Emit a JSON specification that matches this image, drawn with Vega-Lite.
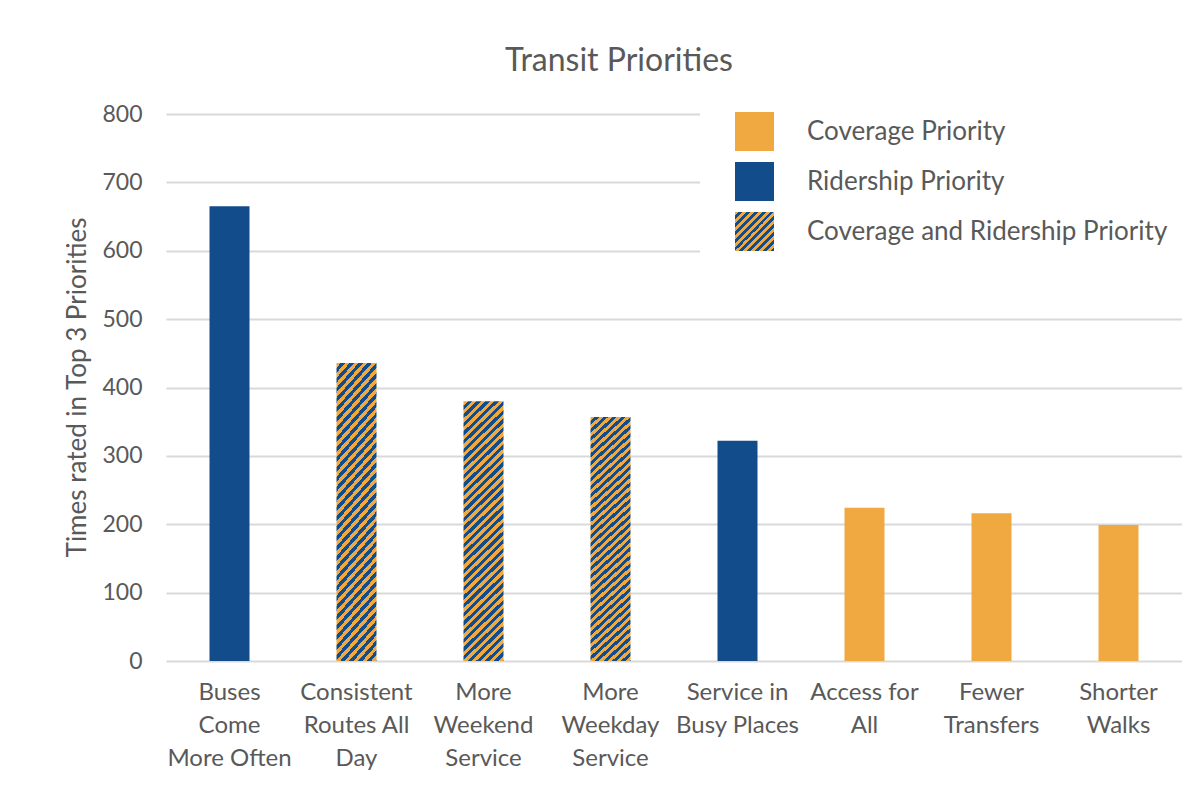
{
  "$schema": "https://vega.github.io/schema/vega-lite/v6.json",
  "width": 1016,
  "height": 547,
  "autosize": {"type": "none"},
  "padding": {"left": 166, "top": 114, "right": 0, "bottom": 126},
  "background": "white",
  "title": {"text": "Transit Priorities", "fontSize": 32, "font": "Lato", "fontWeight": "normal", "color": "#595959", "dx": -55, "offset": -26, "baseline": "alphabetic"},
  "data": {"values": [
    {"priority": "Buses Come More Often", "type": "Ridership Priority", "count": 665},
    {"priority": "Consistent Routes All Day", "type": "Coverage and Ridership Priority", "count": 436},
    {"priority": "More Weekend Service", "type": "Coverage and Ridership Priority", "count": 380},
    {"priority": "More Weekday Service", "type": "Coverage and Ridership Priority", "count": 357},
    {"priority": "Service in Busy Places", "type": "Ridership Priority", "count": 322},
    {"priority": "Access for All", "type": "Coverage Priority", "count": 224},
    {"priority": "Fewer Transfers", "type": "Coverage Priority", "count": 216},
    {"priority": "Shorter Walks", "type": "Coverage Priority", "count": 199}
  ]},
  "config": {"view": {"stroke": null}},
  "mark": {"type": "bar"},
  "encoding": {
    "x": {"field": "priority", "type": "nominal", "sort": null,
      "scale": {"paddingInner": 0.685, "paddingOuter": 0.3425},
      "axis": {"title": null, "domain": false, "ticks": false, "labelAngle": 0, "labelFont": "Lato", "labelFontSize": 24, "labelColor": "#595959", "labelLineHeight": 33, "labelPadding": 19, "labelOverlap": false, "labelLimit": 300,
        "labelExpr": "{'Buses Come More Often':['Buses','Come','More Often'],'Consistent Routes All Day':['Consistent','Routes All','Day'],'More Weekend Service':['More','Weekend','Service'],'More Weekday Service':['More','Weekday','Service'],'Service in Busy Places':['Service in','Busy Places'],'Access for All':['Access for','All'],'Fewer Transfers':['Fewer','Transfers'],'Shorter Walks':['Shorter','Walks']}[datum.value]"}},
    "y": {"field": "count", "type": "quantitative",
      "scale": {"domain": [0, 800], "nice": false},
      "axis": {"values": [0, 100, 200, 300, 400, 500, 600, 700, 800], "grid": true, "gridColor": "#D9D9D9", "gridWidth": 2, "domain": false, "ticks": false, "labelFont": "Lato", "labelFontSize": 23, "labelColor": "#595959", "labelPadding": 24,
        "title": "Times rated in Top 3 Priorities", "titleFont": "Lato", "titleFontSize": 26, "titleFontWeight": "normal", "titleColor": "#595959", "titleX": -89, "titleY": 273, "titleBaseline": "middle", "titleAlign": "center"}},
    "fill": {
      "condition": {"test": "datum.type === 'Coverage and Ridership Priority'",
        "value": {"gradient": "linear", "x1": 0, "y1": 0, "x2": 0.195, "y2": 1.3, "stops": [
{"offset":0,"color":"#F0A940"},{"offset":0.0125,"color":"#F0A940"},{"offset":0.0125,"color":"#134C8A"},{"offset":0.025,"color":"#134C8A"},
{"offset":0.025,"color":"#F0A940"},{"offset":0.0375,"color":"#F0A940"},{"offset":0.0375,"color":"#134C8A"},{"offset":0.05,"color":"#134C8A"},
{"offset":0.05,"color":"#F0A940"},{"offset":0.0625,"color":"#F0A940"},{"offset":0.0625,"color":"#134C8A"},{"offset":0.075,"color":"#134C8A"},
{"offset":0.075,"color":"#F0A940"},{"offset":0.0875,"color":"#F0A940"},{"offset":0.0875,"color":"#134C8A"},{"offset":0.1,"color":"#134C8A"},
{"offset":0.1,"color":"#F0A940"},{"offset":0.1125,"color":"#F0A940"},{"offset":0.1125,"color":"#134C8A"},{"offset":0.125,"color":"#134C8A"},
{"offset":0.125,"color":"#F0A940"},{"offset":0.1375,"color":"#F0A940"},{"offset":0.1375,"color":"#134C8A"},{"offset":0.15,"color":"#134C8A"},
{"offset":0.15,"color":"#F0A940"},{"offset":0.1625,"color":"#F0A940"},{"offset":0.1625,"color":"#134C8A"},{"offset":0.175,"color":"#134C8A"},
{"offset":0.175,"color":"#F0A940"},{"offset":0.1875,"color":"#F0A940"},{"offset":0.1875,"color":"#134C8A"},{"offset":0.2,"color":"#134C8A"},
{"offset":0.2,"color":"#F0A940"},{"offset":0.2125,"color":"#F0A940"},{"offset":0.2125,"color":"#134C8A"},{"offset":0.225,"color":"#134C8A"},
{"offset":0.225,"color":"#F0A940"},{"offset":0.2375,"color":"#F0A940"},{"offset":0.2375,"color":"#134C8A"},{"offset":0.25,"color":"#134C8A"},
{"offset":0.25,"color":"#F0A940"},{"offset":0.2625,"color":"#F0A940"},{"offset":0.2625,"color":"#134C8A"},{"offset":0.275,"color":"#134C8A"},
{"offset":0.275,"color":"#F0A940"},{"offset":0.2875,"color":"#F0A940"},{"offset":0.2875,"color":"#134C8A"},{"offset":0.3,"color":"#134C8A"},
{"offset":0.3,"color":"#F0A940"},{"offset":0.3125,"color":"#F0A940"},{"offset":0.3125,"color":"#134C8A"},{"offset":0.325,"color":"#134C8A"},
{"offset":0.325,"color":"#F0A940"},{"offset":0.3375,"color":"#F0A940"},{"offset":0.3375,"color":"#134C8A"},{"offset":0.35,"color":"#134C8A"},
{"offset":0.35,"color":"#F0A940"},{"offset":0.3625,"color":"#F0A940"},{"offset":0.3625,"color":"#134C8A"},{"offset":0.375,"color":"#134C8A"},
{"offset":0.375,"color":"#F0A940"},{"offset":0.3875,"color":"#F0A940"},{"offset":0.3875,"color":"#134C8A"},{"offset":0.4,"color":"#134C8A"},
{"offset":0.4,"color":"#F0A940"},{"offset":0.4125,"color":"#F0A940"},{"offset":0.4125,"color":"#134C8A"},{"offset":0.425,"color":"#134C8A"},
{"offset":0.425,"color":"#F0A940"},{"offset":0.4375,"color":"#F0A940"},{"offset":0.4375,"color":"#134C8A"},{"offset":0.45,"color":"#134C8A"},
{"offset":0.45,"color":"#F0A940"},{"offset":0.4625,"color":"#F0A940"},{"offset":0.4625,"color":"#134C8A"},{"offset":0.475,"color":"#134C8A"},
{"offset":0.475,"color":"#F0A940"},{"offset":0.4875,"color":"#F0A940"},{"offset":0.4875,"color":"#134C8A"},{"offset":0.5,"color":"#134C8A"},
{"offset":0.5,"color":"#F0A940"},{"offset":0.5125,"color":"#F0A940"},{"offset":0.5125,"color":"#134C8A"},{"offset":0.525,"color":"#134C8A"},
{"offset":0.525,"color":"#F0A940"},{"offset":0.5375,"color":"#F0A940"},{"offset":0.5375,"color":"#134C8A"},{"offset":0.55,"color":"#134C8A"},
{"offset":0.55,"color":"#F0A940"},{"offset":0.5625,"color":"#F0A940"},{"offset":0.5625,"color":"#134C8A"},{"offset":0.575,"color":"#134C8A"},
{"offset":0.575,"color":"#F0A940"},{"offset":0.5875,"color":"#F0A940"},{"offset":0.5875,"color":"#134C8A"},{"offset":0.6,"color":"#134C8A"},
{"offset":0.6,"color":"#F0A940"},{"offset":0.6125,"color":"#F0A940"},{"offset":0.6125,"color":"#134C8A"},{"offset":0.625,"color":"#134C8A"},
{"offset":0.625,"color":"#F0A940"},{"offset":0.6375,"color":"#F0A940"},{"offset":0.6375,"color":"#134C8A"},{"offset":0.65,"color":"#134C8A"},
{"offset":0.65,"color":"#F0A940"},{"offset":0.6625,"color":"#F0A940"},{"offset":0.6625,"color":"#134C8A"},{"offset":0.675,"color":"#134C8A"},
{"offset":0.675,"color":"#F0A940"},{"offset":0.6875,"color":"#F0A940"},{"offset":0.6875,"color":"#134C8A"},{"offset":0.7,"color":"#134C8A"},
{"offset":0.7,"color":"#F0A940"},{"offset":0.7125,"color":"#F0A940"},{"offset":0.7125,"color":"#134C8A"},{"offset":0.725,"color":"#134C8A"},
{"offset":0.725,"color":"#F0A940"},{"offset":0.7375,"color":"#F0A940"},{"offset":0.7375,"color":"#134C8A"},{"offset":0.75,"color":"#134C8A"},
{"offset":0.75,"color":"#F0A940"},{"offset":0.7625,"color":"#F0A940"},{"offset":0.7625,"color":"#134C8A"},{"offset":0.775,"color":"#134C8A"},
{"offset":0.775,"color":"#F0A940"},{"offset":0.7875,"color":"#F0A940"},{"offset":0.7875,"color":"#134C8A"},{"offset":0.8,"color":"#134C8A"},
{"offset":0.8,"color":"#F0A940"},{"offset":0.8125,"color":"#F0A940"},{"offset":0.8125,"color":"#134C8A"},{"offset":0.825,"color":"#134C8A"},
{"offset":0.825,"color":"#F0A940"},{"offset":0.8375,"color":"#F0A940"},{"offset":0.8375,"color":"#134C8A"},{"offset":0.85,"color":"#134C8A"},
{"offset":0.85,"color":"#F0A940"},{"offset":0.8625,"color":"#F0A940"},{"offset":0.8625,"color":"#134C8A"},{"offset":0.875,"color":"#134C8A"},
{"offset":0.875,"color":"#F0A940"},{"offset":0.8875,"color":"#F0A940"},{"offset":0.8875,"color":"#134C8A"},{"offset":0.9,"color":"#134C8A"},
{"offset":0.9,"color":"#F0A940"},{"offset":0.9125,"color":"#F0A940"},{"offset":0.9125,"color":"#134C8A"},{"offset":0.925,"color":"#134C8A"},
{"offset":0.925,"color":"#F0A940"},{"offset":0.9375,"color":"#F0A940"},{"offset":0.9375,"color":"#134C8A"},{"offset":0.95,"color":"#134C8A"},
{"offset":0.95,"color":"#F0A940"},{"offset":0.9625,"color":"#F0A940"},{"offset":0.9625,"color":"#134C8A"},{"offset":0.975,"color":"#134C8A"},
{"offset":0.975,"color":"#F0A940"},{"offset":0.9875,"color":"#F0A940"},{"offset":0.9875,"color":"#134C8A"},{"offset":1,"color":"#134C8A"}
        ]}},
      "field": "type", "type": "nominal",
      "scale": {"domain": ["Coverage Priority", "Ridership Priority", "Coverage and Ridership Priority"], "range": ["#F0A940", "#134C8A", {"expr": "{gradient: 'linear', x1: 0, y1: 0, x2: 1, y2: 1, stops: [{offset: 0, color: '#F0A940'}, {offset: 0.05, color: '#F0A940'}, {offset: 0.05, color: '#134C8A'}, {offset: 0.1, color: '#134C8A'}, {offset: 0.1, color: '#F0A940'}, {offset: 0.15, color: '#F0A940'}, {offset: 0.15, color: '#134C8A'}, {offset: 0.2, color: '#134C8A'}, {offset: 0.2, color: '#F0A940'}, {offset: 0.25, color: '#F0A940'}, {offset: 0.25, color: '#134C8A'}, {offset: 0.3, color: '#134C8A'}, {offset: 0.3, color: '#F0A940'}, {offset: 0.35, color: '#F0A940'}, {offset: 0.35, color: '#134C8A'}, {offset: 0.4, color: '#134C8A'}, {offset: 0.4, color: '#F0A940'}, {offset: 0.45, color: '#F0A940'}, {offset: 0.45, color: '#134C8A'}, {offset: 0.5, color: '#134C8A'}, {offset: 0.5, color: '#F0A940'}, {offset: 0.55, color: '#F0A940'}, {offset: 0.55, color: '#134C8A'}, {offset: 0.6, color: '#134C8A'}, {offset: 0.6, color: '#F0A940'}, {offset: 0.65, color: '#F0A940'}, {offset: 0.65, color: '#134C8A'}, {offset: 0.7, color: '#134C8A'}, {offset: 0.7, color: '#F0A940'}, {offset: 0.75, color: '#F0A940'}, {offset: 0.75, color: '#134C8A'}, {offset: 0.8, color: '#134C8A'}, {offset: 0.8, color: '#F0A940'}, {offset: 0.85, color: '#F0A940'}, {offset: 0.85, color: '#134C8A'}, {offset: 0.9, color: '#134C8A'}, {offset: 0.9, color: '#F0A940'}, {offset: 0.95, color: '#F0A940'}, {offset: 0.95, color: '#134C8A'}, {offset: 1, color: '#134C8A'}]}"}]},
      "legend": {"orient": "none", "legendX": 534, "legendY": -37, "padding": 35, "fillColor": "white", "title": null, "symbolType": "square", "symbolSize": 1521, "symbolStrokeWidth": 0, "symbolOpacity": 1, "labelFont": "Lato", "labelFontSize": 26, "labelColor": "#595959", "labelOffset": 33, "rowPadding": 11, "labelLimit": 500}
    }
  }
}
